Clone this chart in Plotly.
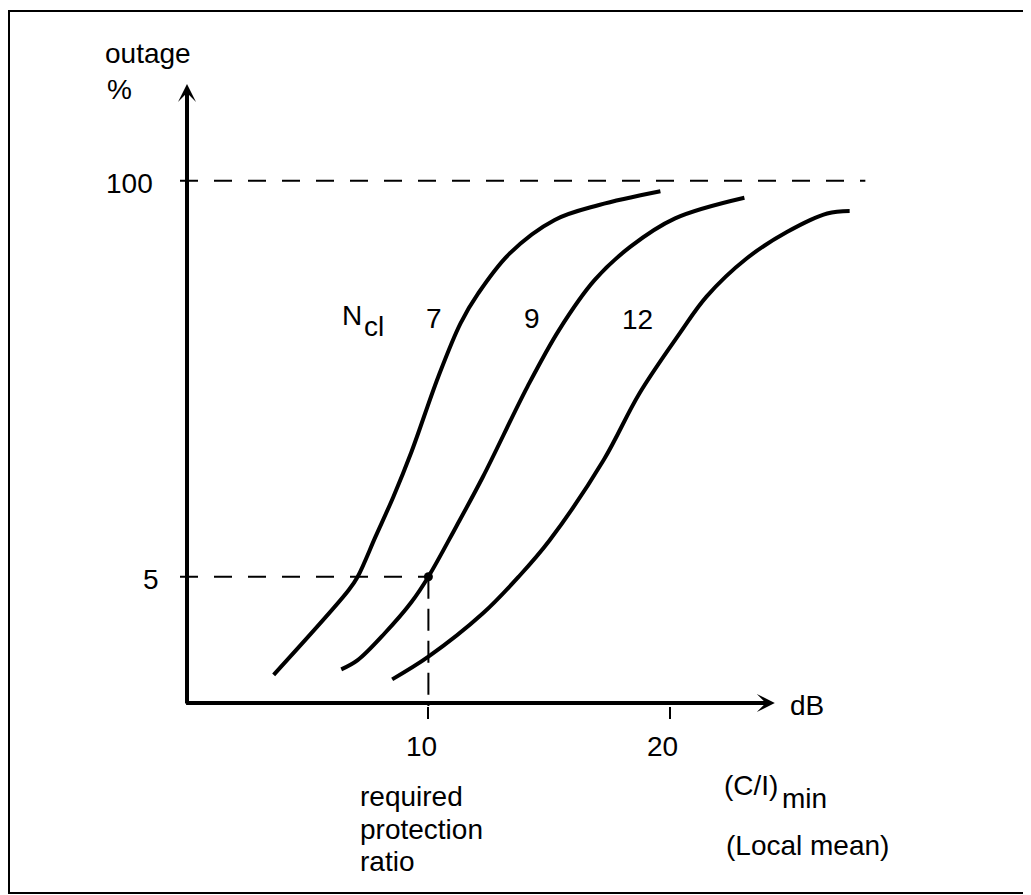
import math
import plotly.graph_objects as go

# ---------------- data ----------------
ncl_labels = ["7", "9", "12"]

x_ncl7 = [3.59, 6.70, 7.07, 7.81, 8.55, 9.30, 10.41, 11.33, 12.07, 13.37, 15.23, 17.07, 19.61]
y_ncl7 = [2.38, 4.52, 5.0, 6.77, 9.16, 12.87, 22.7, 34.0, 42.7, 57.7, 74.3, 83.2, 92.3]

x_ncl9 = [6.39, 7.07, 8.19, 9.30, 10.0, 11.15, 12.26, 14.11, 15.41, 16.89, 18.37, 20.22, 23.09]
y_ncl9 = [2.48, 2.66, 3.26, 4.13, 5.0, 7.30, 10.65, 21.1, 32.3, 47.2, 60.7, 75.2, 87.9]

x_ncl12 = [8.50, 10.0, 12.26, 13.74, 15.03, 17.26, 18.74, 20.41, 21.52, 23.18, 24.85, 26.52, 27.45]
y_ncl12 = [2.30, 2.73, 3.79, 5.0, 6.60, 12.09, 20.0, 31.5, 41.6, 55.5, 67.8, 78.0, 79.5]

x_tick_vals = [10, 20]
x_tick_text = ["10", "20"]
y_tick_vals = [5, 100]
y_tick_text = ["5", "100"]

required_ratio_db = 10      # required protection ratio
required_outage = 5         # outage %
full_outage = 100

# ---------------- layout geometry ----------------
W, H = 1031, 895
OFF = 8                        # page body margin of the html page
L, R, T, B = 172, 164, 72, 197
X_RANGE = [-0.29, 28.5]
Y_RANGE_LOG = [0.2742, 2.3307]
AXIS_Y = 10 ** 0.2841          # value where the x axis is drawn
Y_TIP = 10 ** 2.3176           # y arrow tip
X_TIP = 24.35                  # x arrow tip
DASH_END_X = 28.1

pw = W - L - R
ph = H - T - B


def pxx(xp):
    return (xp - OFF - L) / pw


def pxy(yp):
    return (H - B - (yp - OFF)) / ph


FONT = dict(family="Liberation Sans, Arial, sans-serif", size=28, color="black")

fig = go.Figure()

dash_style = dict(color="black", width=2, dash="18px,16px")

# dashed guide lines
fig.add_trace(go.Scatter(x=[X_RANGE[0], DASH_END_X], y=[full_outage, full_outage],
                         mode="lines", line=dash_style, hoverinfo="skip", showlegend=False))
fig.add_trace(go.Scatter(x=[X_RANGE[0], required_ratio_db], y=[required_outage, required_outage],
                         mode="lines", line=dash_style, hoverinfo="skip", showlegend=False))
fig.add_trace(go.Scatter(x=[required_ratio_db, required_ratio_db], y=[required_outage, 10 ** Y_RANGE_LOG[0]],
                         mode="lines", line=dict(color="black", width=2, dash="22px,10px"),
                         hoverinfo="skip", showlegend=False))

# curves
for xs, ys, name in [(x_ncl7, y_ncl7, ncl_labels[0]),
                     (x_ncl9, y_ncl9, ncl_labels[1]),
                     (x_ncl12, y_ncl12, ncl_labels[2])]:
    fig.add_trace(go.Scatter(x=xs, y=ys, mode="lines", name=name,
                             line=dict(color="black", width=4, shape="spline", smoothing=1.0),
                             showlegend=False))

# marked point
fig.add_trace(go.Scatter(x=[required_ratio_db], y=[required_outage], mode="markers",
                         marker=dict(color="black", size=9), showlegend=False, cliponaxis=False))

annotations = []
# axes drawn as arrows
annotations.append(dict(x=X_TIP, y=math.log10(AXIS_Y), ax=-0.1, ay=math.log10(AXIS_Y),
                        xref="x", yref="y", axref="x", ayref="y", text="", showarrow=True,
                        arrowhead=3, arrowsize=0.75, arrowwidth=4, arrowcolor="black", standoff=0))
annotations.append(dict(x=0, y=math.log10(Y_TIP), ax=0, ay=math.log10(AXIS_Y) - 0.007,
                        xref="x", yref="y", axref="x", ayref="y", text="", showarrow=True,
                        arrowhead=3, arrowsize=0.75, arrowwidth=4, arrowcolor="black", standoff=0))


def txt(text, xp, yp, xanchor="left", yanchor="middle", align="left"):
    annotations.append(dict(text=text, x=pxx(xp), y=pxy(yp), xref="paper", yref="paper",
                            xanchor=xanchor, yanchor=yanchor, align=align, showarrow=False,
                            font=FONT))


# tick labels placed on the axis scales
for v, t in zip(x_tick_vals, x_tick_text):
    annotations.append(dict(text=t, x=v, xref="x", y=pxy(747), yref="paper",
                            xanchor="center", yanchor="middle", xshift=-7,
                            showarrow=False, font=FONT))
y_label_right = {"5": 161, "100": 155}
for v, t in zip(y_tick_vals, y_tick_text):
    annotations.append(dict(text=t, x=pxx(y_label_right[t]), xref="paper", y=math.log10(v), yref="y",
                            xanchor="right", yanchor="middle", yshift=-3,
                            showarrow=False, font=FONT))

txt("outage", 103, 53)
txt("%", 105, 90)
txt("N", 340, 315)
txt("cl", 362, 326)
txt(ncl_labels[0], 434, 318, xanchor="center")
txt(ncl_labels[1], 532, 318, xanchor="center")
txt(ncl_labels[2], 637, 319, xanchor="center")
txt("dB", 788, 705)
txt("required", 358, 796)
txt("protection", 358, 829)
txt("ratio", 358, 862)
txt("(C/I)", 722, 786)
txt("min", 780, 798)
txt("(Local mean)", 724, 845)

shapes = [dict(type="rect", xref="paper", yref="paper",
               x0=pxx(9), x1=pxx(1030), y0=pxy(893), y1=pxy(11),
               line=dict(color="black", width=2), fillcolor="rgba(0,0,0,0)", layer="below")]

fig.update_layout(
    width=W, height=H,
    margin=dict(l=L, r=R, t=T, b=B, pad=0),
    paper_bgcolor="white", plot_bgcolor="white",
    annotations=annotations, shapes=shapes,
    xaxis=dict(range=X_RANGE, showgrid=False, zeroline=False, showline=False,
               tickmode="array", tickvals=x_tick_vals, ticktext=x_tick_text,
               ticks="outside", ticklen=12, tickwidth=2, tickcolor="black",
               showticklabels=False),
    yaxis=dict(type="log", range=Y_RANGE_LOG, showgrid=False, zeroline=False, showline=False,
               tickmode="array", tickvals=y_tick_vals, ticktext=y_tick_text,
               ticks="", showticklabels=False),
    font=FONT,
)

fig.write_html("out.html")
